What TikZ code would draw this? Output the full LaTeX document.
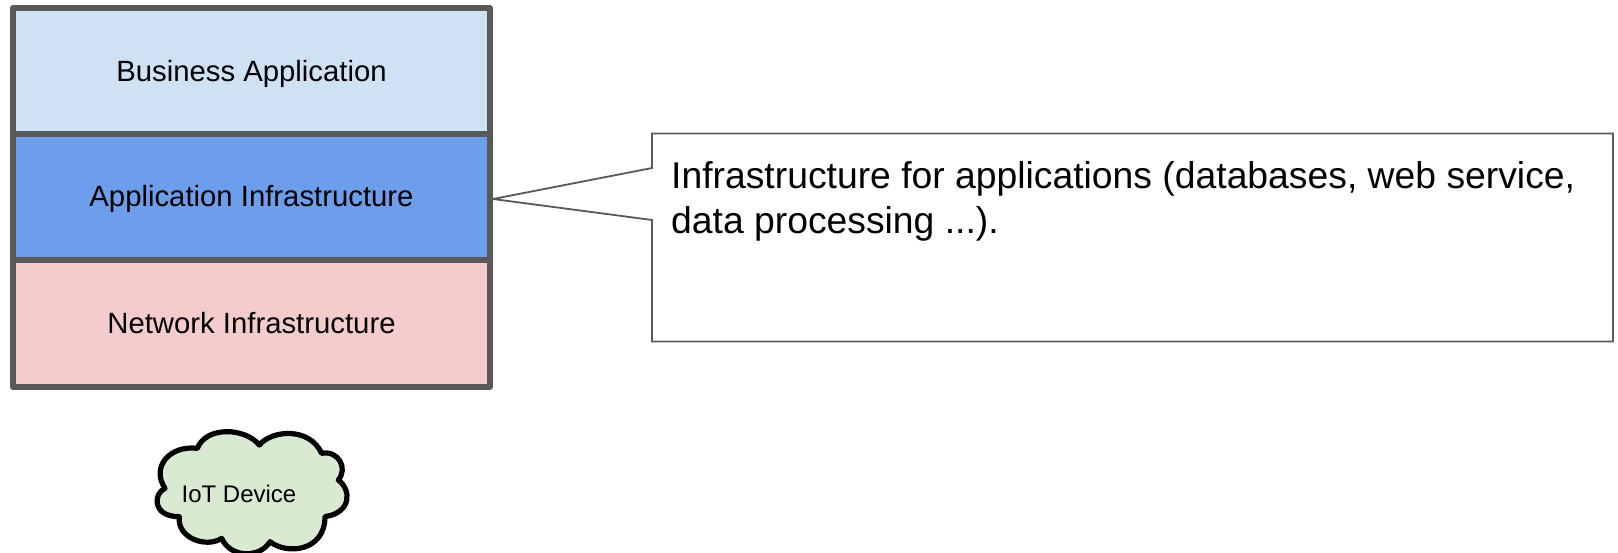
\documentclass[tikz,border=0pt]{standalone}
\usepackage{fontspec}
\setmainfont{Liberation Sans}
\definecolor{layerblue}{HTML}{CFE2F3}
\definecolor{layermid}{HTML}{6D9EEB}
\definecolor{layerred}{HTML}{F4CCCC}
\definecolor{cloudgreen}{HTML}{D9EAD3}
\definecolor{edgegray}{HTML}{595959}
\tikzset{
	layer/.style={draw=edgegray,line width=6pt,line join=round,minimum width=477pt,minimum height=126pt,inner sep=0pt,text height=20pt,text depth=0pt,font=\fontsize{29.3}{34}\selectfont},
}
\begin{document}
\begin{tikzpicture}[x=1pt,y=-1pt]
		\useasboundingbox (0,0) rectangle (1618,552);
		
		\node[layer,fill=layerblue] (business) at (251.5,71) {Business Application};
		\node[layer,fill=layermid,minimum height=125.5pt] (appinfra) at (251.5,196.75) {Application Infrastructure};
		\node[layer,fill=layerred,minimum height=127pt] (netinfra) at (251.5,323.1) {Network Infrastructure};
		
		\coordinate (tip) at (493,199);
		\draw[edgegray,line width=1.8pt,fill=white] (652,133.5) -- (1613,133.5) -- (1613,341.5) -- (652,341.5) -- (652,220) -- (tip) -- (652,168) -- cycle;
		\node[anchor=north west,align=left,inner sep=0pt,font=\fontsize{37.3}{45}\selectfont] (note) at (671,161) {Infrastructure for applications (databases, web service,\\data processing ...).};
		
		\begin{scope}[shift={(140,410)},x=0.3333pt,y=-0.3333pt]
		\draw[black,line width=5.2pt,fill=cloudgreen,line join=round] (75,235)
			.. controls (40,250) and (35,320) .. (118,320)
			.. controls (110,385) and (200,415) .. (245,385)
			.. controls (272,445) and (360,445) .. (390,395)
			.. controls (440,435) and (555,425) .. (555,320)
			.. controls (635,308) and (635,240) .. (595,210)
			.. controls (625,175) and (595,120) .. (545,130)
			.. controls (510,52) and (398,58) .. (358,105)
			.. controls (315,52) and (198,48) .. (172,115)
			.. controls (90,105) and (32,170) .. (75,235) -- cycle;
		\end{scope}
		\node[font=\fontsize{24}{28}\selectfont] (iot) at (239,494) {IoT Device};
		\end{tikzpicture}
\end{document}
